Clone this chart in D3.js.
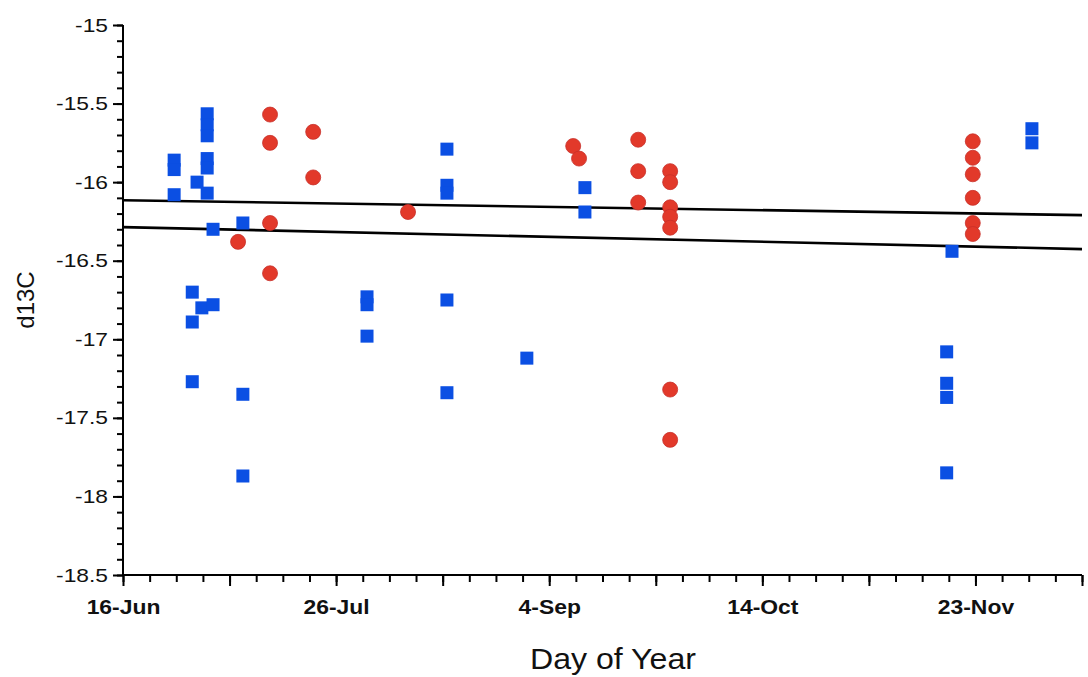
<!DOCTYPE html>
<html>
<head>
<meta charset="utf-8">
<script src="https://cdn.jsdelivr.net/npm/d3@7"></script>
<style>
  html, body { margin: 0; padding: 0; background: #fff; }
  svg { display: block; font-family: "Liberation Sans", Arial, sans-serif; }
</style>
</head>
<body>
<svg id="chart" width="1088" height="677"></svg>
<script>
// Day of year (2001 calendar) and d13C for the square-marker samples
const squareDays = [
  176.6, 176.6, 176.6,
  180, 180, 180,
  180.9,
  182.8, 182.8, 182.8, 182.8, 182.8, 182.8,
  181.8,
  183.9, 183.9,
  189.5, 189.5, 189.5,
  212.8, 212.8, 212.8,
  227.8, 227.8, 227.8, 227.8, 227.8,
  242.8,
  253.7, 253.7,
  321.6, 321.6, 321.6, 321.6,
  322.6,
  337.6, 337.6
];
const squareValues = [
  -15.86, -15.92, -16.08,
  -16.70, -16.89, -17.27,
  -16.00,
  -15.565, -15.635, -15.705, -15.85, -15.91, -16.07,
  -16.80,
  -16.78, -16.30,
  -16.26, -17.35, -17.87,
  -16.73, -16.78, -16.98,
  -15.79, -16.02, -16.07, -16.75, -17.34,
  -17.12,
  -16.035, -16.19,
  -17.08, -17.28, -17.37, -17.85,
  -16.44,
  -15.66, -15.75
];

// Day of year and d13C for the circle-marker samples
const circleDays = [
  188.6,
  194.6, 194.6, 194.6, 194.6,
  202.7, 202.7,
  220.5,
  251.5, 252.6,
  263.7, 263.7, 263.7,
  269.7, 269.7, 269.7, 269.7, 269.7, 269.7, 269.7,
  326.5, 326.5, 326.5, 326.5, 326.5, 326.5
];
const circleValues = [
  -16.38,
  -15.57, -15.75, -16.26, -16.58,
  -15.68, -15.97,
  -16.19,
  -15.77, -15.85,
  -15.73, -15.93, -16.13,
  -15.93, -16.00, -16.16, -16.22, -16.29, -17.32, -17.64,
  -15.74, -15.845, -15.95, -16.10, -16.26, -16.33
];

// Fitted trend lines, evaluated at both ends of the axis
const trendDays = [167, 347];
const trendUpper = [-16.115, -16.21];
const trendLower = [-16.286, -16.426];

// Axis ticks
const xDomain = [167, 347];
const xMajorTicks = [167, 187, 207, 227, 247, 267, 287, 307, 327, 347];
const xLabelTicks = [167, 207, 247, 287, 327];
const yDomain = [-18.5, -15];
const yMajorTicks = [-18.5, -18, -17.5, -17, -16.5, -16, -15.5, -15];

const margin = { top: 25, right: 6, bottom: 102, left: 123 };
const W = 1088, H = 677;
const iw = W - margin.left - margin.right;
const ih = H - margin.top - margin.bottom;

const svg = d3.select("#chart");
const g = svg.append("g").attr("transform", `translate(${margin.left},${margin.top})`);

const x = d3.scaleLinear().domain(xDomain).range([0, iw]);
const y = d3.scaleLinear().domain(yDomain).range([ih, 0]);

const yearStart = Date.UTC(2001, 0, 1);
const dayLabel = d3.utcFormat("%-d-%b");
const fmtDay = doy => dayLabel(d3.utcDay.offset(new Date(yearStart), doy - 1));

// Widen rendered text slightly so glyph proportions follow the chart's lettering
function stretch(sel, k) {
  sel.each(function () {
    const len = this.getComputedTextLength();
    if (len > 0) {
      d3.select(this).attr("textLength", len * k).attr("lengthAdjust", "spacingAndGlyphs");
    }
  });
}

// Trend lines
const line = d3.line().x(d => x(d[0])).y(d => y(d[1]));
[trendUpper, trendLower].forEach(vals => {
  g.append("path")
    .datum(trendDays.map((d, i) => [d, vals[i]]))
    .attr("d", line)
    .attr("fill", "none")
    .attr("stroke", "#000")
    .attr("stroke-width", 2.6);
});

// Square markers
const sq = 13;
g.append("g").selectAll("rect")
  .data(squareDays.map((d, i) => [d, squareValues[i]]))
  .join("rect")
  .attr("x", d => x(d[0]) - sq / 2)
  .attr("y", d => y(d[1]) - sq / 2)
  .attr("width", sq)
  .attr("height", sq)
  .attr("fill", "#0b4fe3");

// Circle markers
g.append("g").selectAll("circle")
  .data(circleDays.map((d, i) => [d, circleValues[i]]))
  .join("circle")
  .attr("cx", d => x(d[0]))
  .attr("cy", d => y(d[1]))
  .attr("r", 7.5)
  .attr("fill", "#e2392a")
  .attr("stroke", "#c8302a")
  .attr("stroke-width", 0.8);

// X axis: minor ticks every 5 days, major every 20, labels every 40
const xMinor = g.append("g").attr("transform", `translate(0,${ih})`)
  .call(d3.axisBottom(x).tickValues(d3.range(167, 348, 5)).tickSize(7).tickFormat(""));
xMinor.select(".domain").remove();
xMinor.selectAll("line").attr("stroke-width", 2);

const xAxis = g.append("g").attr("transform", `translate(0,${ih})`)
  .call(d3.axisBottom(x).tickValues(xMajorTicks).tickSize(11).tickPadding(13)
    .tickFormat(d => xLabelTicks.includes(d) ? fmtDay(d) : ""));
xAxis.select(".domain").attr("stroke-width", 2).attr("d", `M0,0H${iw}`);
xAxis.selectAll("line").attr("stroke-width", 2);
xAxis.selectAll("text")
  .attr("font-size", 21)
  .attr("font-weight", "bold")
  .attr("fill", "#111");
stretch(xAxis.selectAll("text"), 1.09);

// Y axis: minor ticks every 0.1, major every 0.5
const yMinor = g.append("g")
  .call(d3.axisLeft(y).tickValues(d3.range(-185, -149, 1).map(v => v / 10)).tickSize(6).tickFormat(""));
yMinor.select(".domain").remove();
yMinor.selectAll("line").attr("stroke-width", 2);

const yAxis = g.append("g")
  .call(d3.axisLeft(y).tickValues(yMajorTicks).tickSize(10).tickPadding(5)
    .tickFormat(d => String(d)));
yAxis.select(".domain").attr("stroke-width", 2).attr("d", `M0,0V${ih}`);
yAxis.selectAll("line").attr("stroke-width", 2);
yAxis.selectAll("text")
  .attr("font-size", 19)
  .attr("fill", "#111");
stretch(yAxis.selectAll("text"), 1.2);

// Axis titles
const xt = svg.append("text")
  .attr("x", 613)
  .attr("y", 669)
  .attr("text-anchor", "middle")
  .attr("font-size", 30)
  .attr("fill", "#111")
  .text("Day of Year");
stretch(xt, 1.07);

svg.append("text")
  .attr("transform", "translate(34,300) rotate(-90)")
  .attr("text-anchor", "middle")
  .attr("font-size", 24)
  .attr("fill", "#111")
  .text("d13C");
</script>
</body>
</html>
